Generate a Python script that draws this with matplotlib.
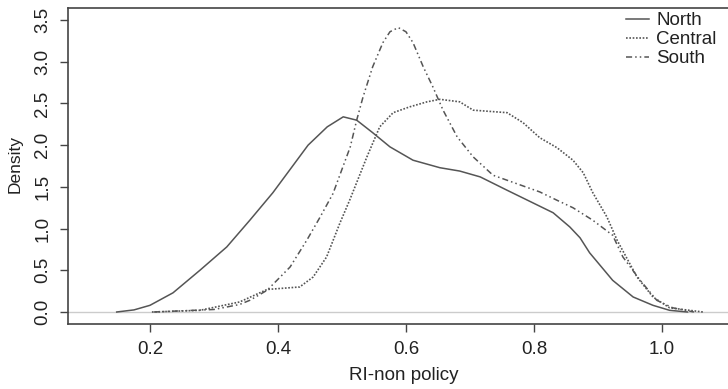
import matplotlib
matplotlib.use("Agg")
import matplotlib.pyplot as plt

plt.rcParams['font.family'] = ['Liberation Sans', 'DejaVu Sans']

# density curves
north_x = [0.148, 0.175, 0.2, 0.236, 0.278, 0.32, 0.356, 0.392, 0.42, 0.447, 0.477,
           0.502, 0.523, 0.548, 0.575, 0.611, 0.653, 0.684, 0.716, 0.758, 0.798,
           0.83, 0.856, 0.872, 0.887, 0.923, 0.955, 0.986, 1.012, 1.04]
north_y = [0.0, 0.025, 0.08, 0.23, 0.5, 0.78, 1.1, 1.43, 1.72, 2.0, 2.22,
           2.34, 2.30, 2.15, 1.98, 1.82, 1.73, 1.69, 1.62, 1.46, 1.31,
           1.19, 1.02, 0.89, 0.71, 0.38, 0.18, 0.08, 0.02, 0.0]

central_x = [0.203, 0.278, 0.34, 0.383, 0.434, 0.455, 0.476, 0.497, 0.512, 0.539,
             0.559, 0.58, 0.606, 0.633, 0.653, 0.684, 0.705, 0.758, 0.783, 0.809,
             0.836, 0.861, 0.877, 0.892, 0.914, 0.93, 0.961, 0.986, 1.012, 1.064]
central_y = [0.0, 0.02, 0.12, 0.27, 0.30, 0.42, 0.66, 1.07, 1.34, 1.86,
             2.22, 2.39, 2.46, 2.52, 2.55, 2.52, 2.42, 2.39, 2.27, 2.09,
             1.97, 1.82, 1.67, 1.43, 1.14, 0.86, 0.42, 0.18, 0.05, 0.0]

south_x = [0.206, 0.3, 0.34, 0.356, 0.383, 0.419, 0.445, 0.466, 0.486, 0.513,
           0.523, 0.533, 0.548, 0.564, 0.575, 0.588, 0.6, 0.611, 0.627, 0.642,
           0.658, 0.68, 0.705, 0.736, 0.758, 0.809, 0.836, 0.861, 0.892, 0.923,
           0.939, 0.966, 0.992, 1.017, 1.05]
south_y = [0.0, 0.03, 0.09, 0.14, 0.26, 0.54, 0.86, 1.14, 1.42, 1.98,
           2.30, 2.58, 2.94, 3.23, 3.36, 3.41, 3.36, 3.23, 2.94, 2.70,
           2.42, 2.10, 1.86, 1.64, 1.58, 1.44, 1.34, 1.25, 1.10, 0.92,
           0.66, 0.38, 0.14, 0.05, 0.0]

x_ticks = [0.2, 0.4, 0.6, 0.8, 1.0]
y_ticks = [0.0, 0.5, 1.0, 1.5, 2.0, 2.5, 3.0, 3.5]

W, H = 728, 389
fig = plt.figure(figsize=(W / 100, H / 100), dpi=100)
# plot box: left 68px, top 8px, bottom 324px, right edge cut off at ~740px
ax = fig.add_axes([68 / W, 65 / H, 672 / W, 316 / H])

col = '#555555'
ax.axhline(0, color='#cccccc', lw=1.0, zorder=1)
ax.plot(north_x, north_y, color=col, lw=1.1, ls='-', label='North')
ax.plot(central_x, central_y, color=col, lw=1.2, ls=(0, (1, 1)), label='Central')
ax.plot(south_x, south_y, color=col, lw=1.1, ls=(0, (4, 2, 1, 2, 1, 2)), label='South')

ax.set_xlim(0.0719, 1.122)
ax.set_ylim(-0.144, 3.645)
ax.set_xticks(x_ticks)
ax.set_xticklabels(['0.2', '0.4', '0.6', '0.8', '1.0'])
ax.set_yticks(y_ticks)
ax.set_yticklabels(['0.0', '0.5', '1.0', '1.5', '2.0', '2.5', '3.0', '3.5'],
                   rotation=90, va='center')
ax.tick_params(direction='out', length=6, width=1, color='#444444',
               labelsize=13.5, labelcolor='#222222', pad=6)
for s in ax.spines.values():
    s.set_color('#444444')
    s.set_linewidth(1.2)

fig.text(15 / W, 1 - 164 / H, 'Density', rotation=90, ha='center', va='center',
         fontsize=12.5, color='#222222')
fig.text(404 / W, 1 - 376 / H, 'RI-non policy', ha='center', va='center',
         fontsize=13.5, color='#222222')

fig.legend(loc='upper left', bbox_to_anchor=(626 / W, 1 - 12 / H), frameon=False,
           fontsize=13.5, handlelength=1.2, handletextpad=0.4, labelspacing=0.1,
           borderpad=0, borderaxespad=0, labelcolor='#222222')

fig.savefig('out.png', dpi=100)
